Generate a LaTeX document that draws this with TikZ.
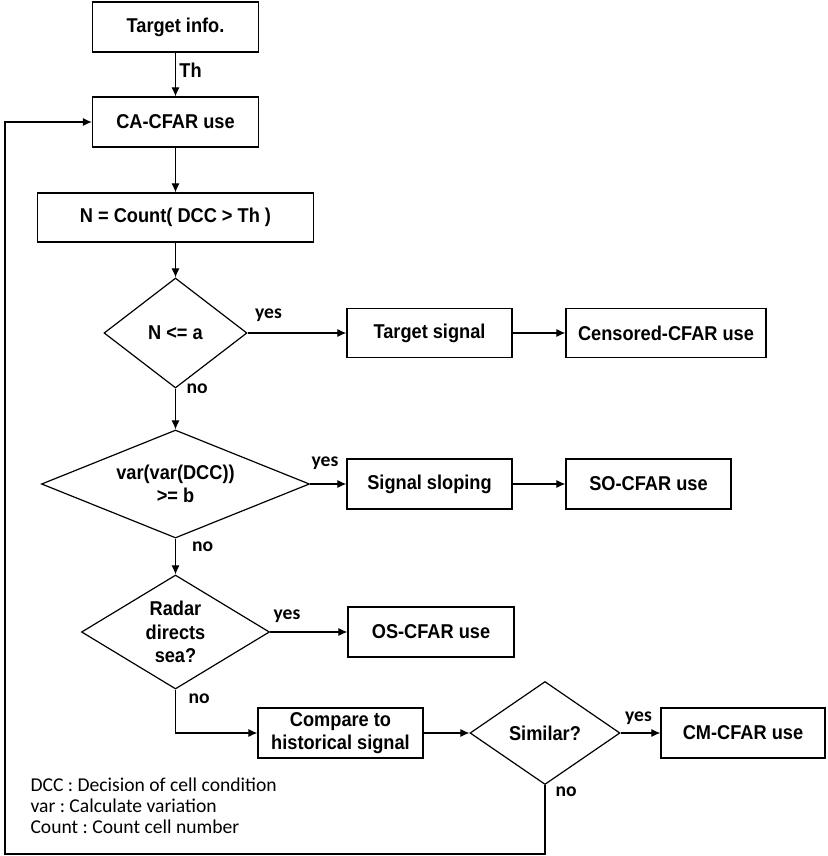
\documentclass[tikz,border=0pt]{standalone}
\usepackage{fontspec}
\setmainfont{Liberation Sans}[FakeStretch=0.91]
\newfontfamily\notefont{Carlito}
\usetikzlibrary{arrows.meta,shapes.geometric}

\tikzset{
	blk/.style={draw, rectangle, line width=1.2pt, inner sep=0pt, minimum height=50pt, align=center, font=\bfseries\fontsize{20}{23.5}\selectfont},
	dec/.style={draw, diamond, line width=1.2pt, inner sep=0pt, align=center, font=\bfseries\fontsize{20}{23.5}\selectfont},
	yn/.style={inner sep=0pt, font=\notefont\bfseries\fontsize{19.6}{21}\selectfont},
	yes/.style={yn, anchor=south west, pos=0},
	no/.style={yn, anchor=west}
}

\begin{document}
\frenchspacing
\begin{tikzpicture}[x=1pt, y=-1pt, line width=1.1pt, >={Latex[length=9pt,width=8pt]}]
		\useasboundingbox (0,0) rectangle (827,856);
		\node[blk, minimum width=166pt] (info) at (175.5,27) {Target info.};
		\node[blk, minimum width=166pt] (ca) at (175.5,122) {CA-CFAR use};
		\node[blk, minimum width=276pt, minimum height=49pt] (cnt) at (175.5,217.5) {N = Count( DCC > Th )};
		\node[dec, minimum width=143pt, minimum height=110pt, shape aspect=1.3] (d1) at (175.5,333) {N <= a};
		\node[blk, minimum width=165pt, minimum height=49pt] (tsig) at (429.5,333) {Target signal};
		\node[blk, minimum width=200pt, minimum height=49pt] (cens) at (666,333) {Censored-CFAR use};
		\node[dec, minimum width=268pt, minimum height=108pt, shape aspect=2.48] (d2) at (175.5,484) {var(var(DCC))\\>= b};
		\node[blk, minimum width=165pt] (slope) at (429.5,484) {Signal sloping};
		\node[blk, minimum width=165pt] (so) at (648.5,484) {SO-CFAR use};
		\node[dec, minimum width=188pt, minimum height=114pt, shape aspect=1.65] (d3) at (175.5,632) {Radar\\directs\\sea?};
		\node[blk, minimum width=166pt] (os) at (431,632) {OS-CFAR use};
		\node[blk, minimum width=165pt] (cmp) at (340.5,733) {Compare to\\historical signal};
		\node[dec, minimum width=150pt, minimum height=103pt, shape aspect=1.46] (d4) at (545,733) {Similar?};
		\node[blk, minimum width=164pt] (cm) at (743,733) {CM-CFAR use};
		\node[anchor=north west, inner sep=0pt, align=left, font=\notefont\fontsize{19.6}{21.2}\selectfont] (key) at (30,777) {DCC : Decision of cell condition\\var : Calculate variation\\Count : Count cell number};
		\coordinate (lb) at (5,854);
		\path[->]
		(info) edge node [right, pos=0.4, font=\bfseries\fontsize{20}{23}\selectfont] {Th} (ca)
		(ca) edge (cnt)
		(cnt) edge (d1)
		(d1.east) edge node [yes, xshift=7pt, yshift=11pt] {yes} (tsig.west)
		(tsig) edge (cens)
		(d1.south) edge node [no, pos=0, xshift=10.5pt] {no} (d2.north)
		(d2.east) edge node [yes, xshift=1pt, yshift=14pt] {yes} (slope.west)
		(slope) edge (so)
		(d2.south) edge node [no, pos=0.24, xshift=16pt] {no} (d3.north)
		(d3.east) edge node [yes, xshift=3pt, yshift=9pt] {yes} (os.west)
		(cmp.east) edge (d4.west)
		(d4.east) edge node [yes, xshift=4pt, yshift=8pt] {yes} (cm.west)
		;
		\draw[->] (d3.south) |- node [no, pos=0.1, xshift=12.5pt] {no} (cmp.west);
		\draw[->] (d4.south) -- node [no, pos=0.09, xshift=10pt] {no} (d4.south |- lb) -- (lb) |- (ca.west);
	\end{tikzpicture}
\end{document}
